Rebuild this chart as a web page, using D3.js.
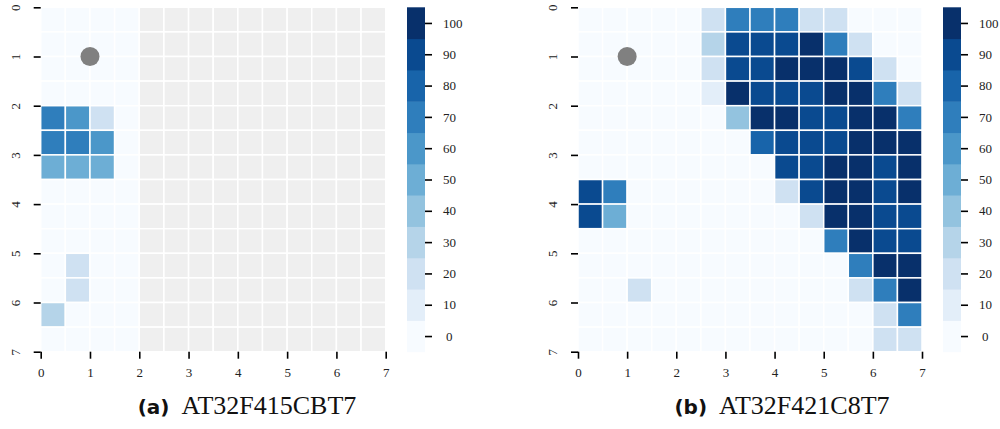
<!DOCTYPE html>
<html>
<head>
<meta charset="utf-8">
<script src="https://cdn.jsdelivr.net/npm/d3@7"></script>
<style>
  html, body { margin: 0; padding: 0; background: #fff; }
  svg { display: block; }
  .tick text { font-family: "Liberation Serif", "DejaVu Serif", serif; font-size: 13px; fill: #222; }
</style>
</head>
<body>
<svg id="chart" width="1000" height="429"></svg>
<script>
// Grid positions along each axis (cell edges every 0.5 units, 0..7)
const axisTicks = [0, 1, 2, 3, 4, 5, 6, 7];
const colorbarTicks = [0, 10, 20, 30, 40, 50, 60, 70, 80, 90, 100];

// Panel (a): AT32F415CBT7 — only the first four columns were measured (null = no data)
const valuesA = [
  [0, 0, 0, 0],
  [0, 0, 0, 0],
  [0, 0, 0, 0],
  [0, 0, 0, 0],
  [70, 60, 20, 0],
  [70, 70, 60, 0],
  [50, 50, 50, 0],
  [0, 0, 0, 0],
  [0, 0, 0, 0],
  [0, 0, 0, 0],
  [0, 20, 0, 0],
  [0, 20, 0, 0],
  [30, 0, 0, 0],
  [0, 0, 0, 0]
];

// Panel (b): AT32F421C8T7
const valuesB = [
  [0, 0, 0, 0, 0, 20, 70, 70, 70, 20, 20, 0, 0, 0],
  [0, 0, 0, 0, 0, 30, 90, 90, 90, 100, 70, 20, 0, 0],
  [0, 0, 0, 0, 0, 20, 90, 90, 100, 100, 100, 90, 20, 0],
  [0, 0, 0, 0, 0, 10, 100, 90, 90, 90, 100, 100, 70, 20],
  [0, 0, 0, 0, 0, 0, 40, 100, 100, 90, 90, 100, 100, 70],
  [0, 0, 0, 0, 0, 0, 0, 80, 90, 90, 90, 100, 100, 100],
  [0, 0, 0, 0, 0, 0, 0, 0, 90, 90, 100, 100, 90, 100],
  [90, 70, 0, 0, 0, 0, 0, 0, 20, 90, 100, 100, 90, 100],
  [90, 50, 0, 0, 0, 0, 0, 0, 0, 20, 100, 100, 90, 90],
  [0, 0, 0, 0, 0, 0, 0, 0, 0, 0, 70, 100, 90, 90],
  [0, 0, 0, 0, 0, 0, 0, 0, 0, 0, 0, 70, 100, 100],
  [0, 0, 20, 0, 0, 0, 0, 0, 0, 0, 0, 20, 70, 100],
  [0, 0, 0, 0, 0, 0, 0, 0, 0, 0, 0, 0, 20, 70],
  [0, 0, 0, 0, 0, 0, 0, 0, 0, 0, 0, 0, 20, 20]
];

// Reference marker position (x, y)
const markerPoint = [1, 1];

const panelLabels = ["(a)", "(b)"];
const panelNames = ["AT32F415CBT7", "AT32F421C8T7"];

const gridSize = 14;
const cellStep = 0.5;

const svg = d3.select("#chart");

// Discrete 11-step Blues palette, one colour per 10-unit band
const palette = colorbarTicks.map(v => d3.interpolateBlues(v / 100));
const color = d3.scaleQuantize().domain([-5, 105]).range(palette);

function drawPanel(values, opts) {
  const g = svg.append("g");
  const x = d3.scaleLinear().domain([0, 7]).range([opts.x0, opts.x1]);
  const y = d3.scaleLinear().domain([0, 7]).range([opts.y0, opts.y1]);

  const cells = [];
  for (let r = 0; r < gridSize; r++) {
    for (let c = 0; c < gridSize; c++) {
      const row = values[r] || [];
      const v = c < row.length ? row[c] : null;
      cells.push({ r, c, v });
    }
  }

  g.append("g").selectAll("rect")
    .data(cells)
    .join("rect")
    .attr("x", d => x(d.c * cellStep))
    .attr("y", d => y(d.r * cellStep))
    .attr("width", d => x((d.c + 1) * cellStep) - x(d.c * cellStep))
    .attr("height", d => y((d.r + 1) * cellStep) - y(d.r * cellStep))
    .attr("fill", d => d.v == null ? "#efefef" : color(d.v))
    .attr("stroke", "#fff")
    .attr("stroke-width", 1.5);

  g.append("circle")
    .attr("cx", x(markerPoint[0]))
    .attr("cy", y(markerPoint[1]))
    .attr("r", 9.5)
    .attr("fill", "#808080");

  const xAxis = g.append("g")
    .attr("transform", `translate(0,${opts.y1})`)
    .call(d3.axisBottom(x).tickValues(axisTicks).tickFormat(d3.format("d")).tickSize(7).tickPadding(9));
  xAxis.select(".domain").remove();
  xAxis.selectAll(".tick line").attr("stroke", "#000").attr("stroke-width", 1.6);

  const yAxis = g.append("g")
    .attr("transform", `translate(${opts.x0},0)`)
    .call(d3.axisLeft(y).tickValues(axisTicks).tickFormat(d3.format("d")).tickSize(7));
  yAxis.select(".domain").remove();
  yAxis.selectAll(".tick line").attr("stroke", "#000").attr("stroke-width", 1.6);
  yAxis.selectAll(".tick text")
    .attr("x", null).attr("dy", null)
    .attr("text-anchor", "middle")
    .attr("transform", "translate(-21,0) rotate(-90)");

  // Colorbar
  const cy = d3.scaleLinear().domain([-5, 105]).range([opts.y1, opts.y0]);
  const cb = svg.append("g");
  cb.selectAll("rect")
    .data(colorbarTicks)
    .join("rect")
    .attr("x", opts.cbX)
    .attr("y", d => cy(d + 5))
    .attr("width", 18)
    .attr("height", d => cy(d - 5) - cy(d + 5) + 0.5)
    .attr("fill", d => color(d));
  const cbAxis = cb.append("g")
    .attr("transform", `translate(${opts.cbX + 18},0)`)
    .call(d3.axisRight(cy).tickValues(colorbarTicks).tickFormat(d3.format("d")).tickSize(7).tickPadding(11));
  cbAxis.select(".domain").remove();
  cbAxis.selectAll(".tick line").attr("stroke", "#000").attr("stroke-width", 1.6);
  cbAxis.selectAll(".tick text").attr("dx", d => d === 0 ? 3 : 0);

  // Caption
  const cap = svg.append("text")
    .attr("x", opts.capX)
    .attr("y", 414)
    .attr("text-anchor", "middle")
    .attr("fill", "#111");
  cap.append("tspan")
    .attr("font-family", "'DejaVu Sans', sans-serif")
    .attr("font-weight", "bold")
    .attr("font-size", 20)
    .text(opts.label);
  cap.append("tspan")
    .attr("dx", 12)
    .attr("font-family", "'Liberation Serif', 'DejaVu Serif', serif")
    .attr("font-size", 26)
    .text(opts.name);
}

drawPanel(valuesA, { x0: 40.7, x1: 385.7, y0: 7.3, y1: 351.7, cbX: 407, capX: 247, label: panelLabels[0], name: panelNames[0] });
drawPanel(valuesB, { x0: 578, x1: 922, y0: 7.3, y1: 351.7, cbX: 943, capX: 782, label: panelLabels[1], name: panelNames[1] });
</script>
</body>
</html>
